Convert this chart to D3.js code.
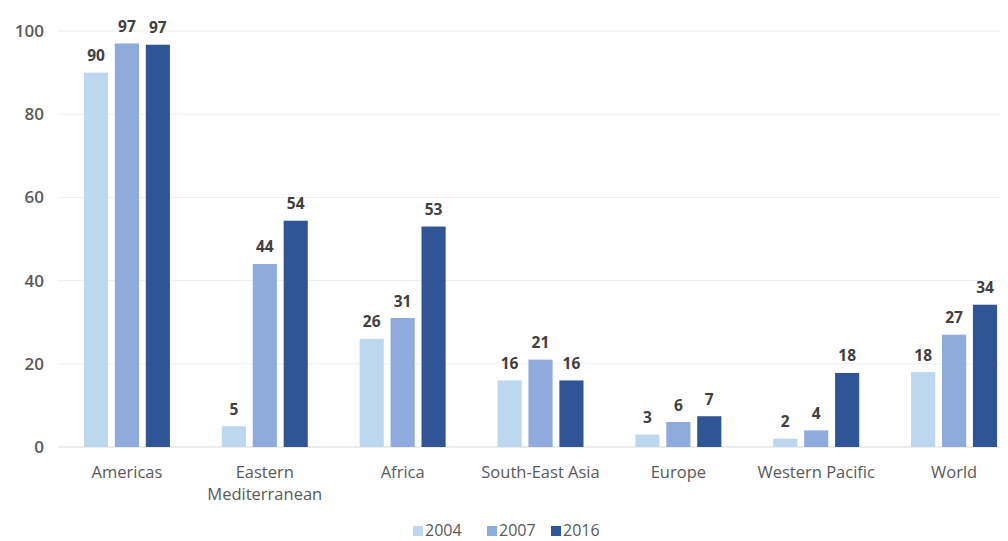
<!DOCTYPE html>
<html><head><meta charset="utf-8">
<script src="https://cdn.jsdelivr.net/npm/d3@7"></script>
<style>body{margin:0;background:#fff;} svg{display:block;}</style>
</head><body>
<svg id="c" width="1008" height="541"></svg>
<script>
const categories = [["Americas"],["Eastern","Mediterranean"],["Africa"],["South-East Asia"],["Europe"],["Western Pacific"],["World"]];
const series = ["2004","2007","2016"];
const v2004 = [90, 5, 26, 16, 3, 2, 18];
const v2007 = [97, 44, 31, 21, 6, 4, 27];
const v2016 = [96.7, 54.4, 53, 16, 7.4, 17.8, 34.2];
const yTicks = [0,20,40,60,80,100];
const colors = ["#bdd7ee","#8faadc","#2f5597"];

const svg = d3.select("#c");
const font = "'Open Sans', 'Liberation Sans', sans-serif";
const y = d3.scaleLinear().domain([0,100]).range([447,31]);
const x0 = d3.scaleBand().domain(d3.range(categories.length)).range([58,1023]).paddingInner(0).paddingOuter(0);
const x1 = d3.scaleBand().domain(series).range([x0.bandwidth()/2-43, x0.bandwidth()/2+43]).paddingInner(0.22);
const vals = [v2004, v2007, v2016];

// grid
svg.append("g").selectAll("line").data(yTicks).join("line")
  .attr("x1",58).attr("x2",1000).attr("y1",d=>y(d)).attr("y2",d=>y(d))
  .attr("stroke",d=>d===0?"#d9d9d9":"#eeeeee").attr("stroke-width",1);

// y axis labels
const ya = svg.append("g").attr("transform","translate(44,0)")
  .call(d3.axisLeft(y).tickValues(yTicks).tickSize(0).tickPadding(0));
ya.select(".domain").remove();
ya.selectAll("text").attr("font-family",font).attr("font-size",17).attr("font-weight",600).attr("fill","#595959");

// bars
const groups = svg.append("g").selectAll("g").data(categories).join("g")
  .attr("transform",(d,i)=>`translate(${x0(i)},0)`);
series.forEach((s,si)=>{
  groups.append("rect")
    .attr("x",x1(s)).attr("width",x1.bandwidth())
    .attr("y",(d,i)=>y(vals[si][i])).attr("height",(d,i)=>y(0)-y(vals[si][i]))
    .attr("fill",colors[si]);
  groups.append("text")
    .attr("x",x1(s)+x1.bandwidth()/2).attr("y",(d,i)=>y(vals[si][i])-11.5)
    .attr("text-anchor","middle").attr("font-family",font).attr("font-size",15.5).attr("font-weight",700)
    .attr("fill","#404040").text((d,i)=>d3.format(".0f")(vals[si][i]));
});

// category labels
groups.append("text").attr("text-anchor","middle").attr("font-family",font).attr("font-size",16.5)
  .attr("fill","#595959")
  .each(function(d){
    const t=d3.select(this);
    d.forEach((line,li)=>t.append("tspan").attr("x",x0.bandwidth()/2).attr("y",478+li*22).text(line));
  });

// legend
const legX = [413, 487, 551];
const leg = svg.append("g");
series.forEach((s,i)=>{
  leg.append("rect").attr("x",legX[i]).attr("y",526).attr("width",10).attr("height",10).attr("fill",colors[i]);
  leg.append("text").attr("x",legX[i]+12).attr("y",536).attr("font-family",font).attr("font-size",16)
    .attr("fill","#595959").text(s);
});
</script>
</body></html>
